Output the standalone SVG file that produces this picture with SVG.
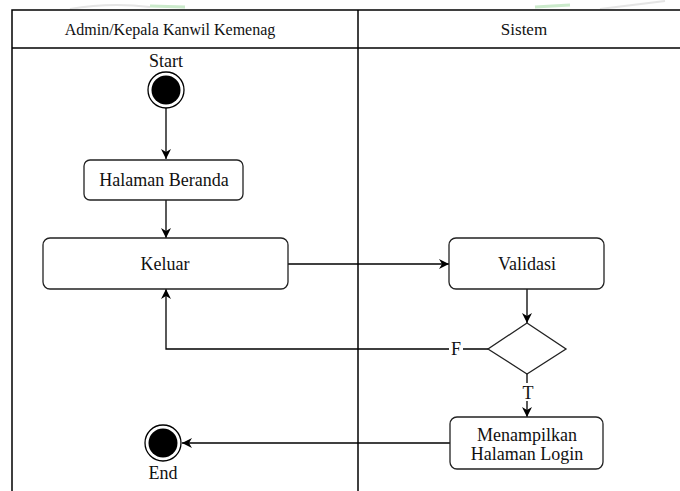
<svg xmlns="http://www.w3.org/2000/svg" width="680" height="491" viewBox="0 0 680 491">
<defs>
<marker id="arr" viewBox="0 0 10 10" refX="10" refY="5" markerWidth="10" markerHeight="10" markerUnits="userSpaceOnUse" orient="auto">
<path d="M0,0 L10,5 L0,10 L3,5 z" fill="#000"/>
</marker>
<style>
text{font-family:"Liberation Serif","DejaVu Serif",serif;font-size:18px;fill:#111;text-anchor:middle}
.hdr{font-size:16px}
.box{fill:#fff;stroke:#222;stroke-width:1.3}
.lane{fill:none;stroke:#000;stroke-width:1.5}
.con{fill:none;stroke:#000;stroke-width:1.3}
</style>
</defs>
<rect width="680" height="491" fill="#fff"/>
<g id="watermark" opacity="0.3">
<path d="M70,9 Q110,2 150,7" stroke="#aaa" stroke-width="2" fill="none"/>
<path d="M150,6 L185,7" stroke="#5b5" stroke-width="3" fill="none"/>
<path d="M535,7 L570,5" stroke="#5b5" stroke-width="3" fill="none"/>
<path d="M600,9 Q640,4 665,1" stroke="#aaa" stroke-width="2" fill="none"/>
</g>
<g id="swimlanes">
<path class="lane" d="M12,491 V10 H680"/>
<path class="lane" d="M12,48 H680"/>
<path class="lane" d="M358,10 V491"/>
<text class="hdr" x="170" y="35">Admin/Kepala Kanwil Kemenag</text>
<text class="hdr" x="524" y="35" style="font-size:17px">Sistem</text>
</g>
<g id="connectors">
<path class="con" d="M166,108 V159" marker-end="url(#arr)"/>
<path class="con" d="M166,200 V238" marker-end="url(#arr)"/>
<path class="con" d="M288,264 H449" marker-end="url(#arr)"/>
<path class="con" d="M527,289 V323" marker-end="url(#arr)"/>
<path class="con" d="M488,349 H166 V289" marker-end="url(#arr)"/>
<path class="con" d="M527,374 V417" marker-end="url(#arr)"/>
<path class="con" d="M450,443 H182" marker-end="url(#arr)"/>
<rect x="449" y="340" width="14" height="18" fill="#fff"/>
<text x="456" y="355">F</text>
<rect x="520" y="383" width="15" height="18" fill="#fff"/>
<text x="528" y="399">T</text>
</g>
<g id="start">
<text x="166" y="67">Start</text>
<circle cx="166" cy="90" r="18" fill="#fff" stroke="#000" stroke-width="1.3"/>
<circle cx="166" cy="90" r="14.5" fill="#000"/>
</g>
<g id="halaman-beranda">
<rect class="box" x="84" y="160" width="159" height="40" rx="6"/>
<text x="164" y="186">Halaman Beranda</text>
</g>
<g id="keluar">
<rect class="box" x="43" y="238" width="245" height="51" rx="7"/>
<text x="165" y="270">Keluar</text>
</g>
<g id="validasi">
<rect class="box" x="449" y="238" width="155" height="51" rx="7"/>
<text x="527" y="270">Validasi</text>
</g>
<g id="decision">
<path class="box" d="M527,323 L566,349 L527,374 L488,349 z"/>
</g>
<g id="menampilkan">
<rect class="box" x="450" y="417" width="153" height="52" rx="7"/>
<text x="527" y="441">Menampilkan</text>
<text x="527" y="460">Halaman Login</text>
</g>
<g id="end">
<circle cx="163" cy="443" r="18" fill="#fff" stroke="#000" stroke-width="1.3"/>
<circle cx="163" cy="443" r="14.5" fill="#000"/>
<text x="163" y="479">End</text>
</g>
</svg>
